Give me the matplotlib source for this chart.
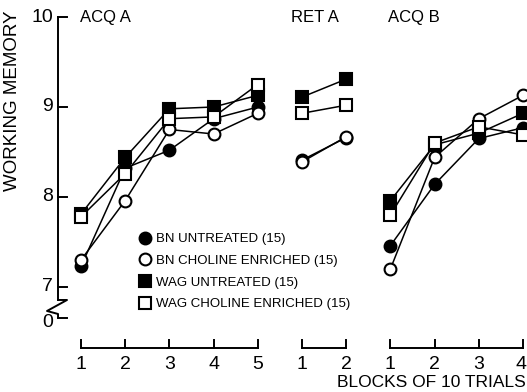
import numpy as np
import matplotlib.pyplot as plt
from matplotlib.lines import Line2D

# Working memory scores, blocks of 10 trials, three phases
fases = ["ACQ A", "RET A", "ACQ B"]
bloques = {"ACQ A": [1, 2, 3, 4, 5], "RET A": [1, 2], "ACQ B": [1, 2, 3, 4]}

bn_untreated = {"ACQ A": [7.23, 8.32, 8.52, 8.87, 9.00],
                "RET A": [8.41, 8.66],
                "ACQ B": [7.46, 8.14, 8.65, 8.77]}
bn_choline = {"ACQ A": [7.30, 7.96, 8.75, 8.70, 8.93],
              "RET A": [8.39, 8.67],
              "ACQ B": [7.20, 8.44, 8.87, 9.13]}
wag_untreated = {"ACQ A": [7.81, 8.44, 8.98, 9.00, 9.13],
                 "RET A": [9.11, 9.31],
                 "ACQ B": [7.96, 8.58, 8.71, 8.93]}
wag_choline = {"ACQ A": [7.78, 8.26, 8.87, 8.89, 9.25],
               "RET A": [8.93, 9.02],
               "ACQ B": [7.80, 8.60, 8.78, 8.69]}

etiquetas = ["BN UNTREATED (15)", "BN CHOLINE ENRICHED (15)",
             "WAG UNTREATED (15)", "WAG CHOLINE ENRICHED (15)"]
yticks = [7, 8, 9, 10]

plt.rcParams["font.family"] = ["Liberation Sans", "DejaVu Sans"]

fig = plt.figure(figsize=(5.27, 3.92), dpi=100)
ax = fig.add_axes([0, 0, 1, 1])
ax.set_xlim(-0.833, 11.09)
ax.set_ylim(5.833, 10.189)
ax.axis("off")

# posicion continua de cada fase en el eje x
inicio = {"ACQ A": 1, "RET A": 6, "ACQ B": 8}
cero = 6.66  # donde se dibuja el 0 del eje cortado

estilos = [
    (bn_untreated, dict(marker="o", mfc="black")),
    (wag_untreated, dict(marker="s", mfc="black")),
    (bn_choline, dict(marker="o", mfc="white")),
    (wag_choline, dict(marker="s", mfc="white")),
]
for serie, st in estilos:
    for f in fases:
        x = np.array(bloques[f]) + inicio[f] - 1
        ax.plot(x, serie[f], color="black", lw=1.1, ms=8.5, mec="black",
                mew=1.5, **st)

# eje y con corte
k = lambda px: 1 + (px - 81) / 44.2
v = lambda py: 10 - (py - 17) / 90
ax.plot([k(58), k(58)], [10, v(300)], color="black", lw=1.4)
ax.plot([k(58), k(67), k(47), k(58), k(58)],
        [v(300), v(300), v(311), v(314), cero], color="black", lw=1.4)
for t in yticks + [cero]:
    ax.plot([k(58), k(67)], [t, t], color="black", lw=1.4)
    lab = "0" if t == cero else str(t)
    yy = cero - 0.06 if t == cero else t
    ax.text(k(53), yy, lab, ha="right", va="center", fontsize=14)

ax.text(k(12), v(101), "WORKING MEMORY", rotation=90, ha="center",
        va="center", fontsize=13.5)

# eje x en tramos por fase
yb = v(348)
for f in fases:
    x = np.array(bloques[f]) + inicio[f] - 1
    ax.plot([x[0], x[-1]], [yb, yb], color="black", lw=1.4)
    for xi, b in zip(x, bloques[f]):
        ax.plot([xi, xi], [yb, yb + 0.09], color="black", lw=1.4)
        xt = min(xi, k(520.5))
        ax.text(xt, v(365), str(b), ha="center", va="center", fontsize=14)

ax.text(k(526), v(383), "BLOCKS OF 10 TRIALS", ha="right", va="center",
        fontsize=12.5)

# titulos de cada fase
ax.text(k(80), v(17), "ACQ A", ha="left", va="center", fontsize=12)
ax.text(k(291), v(17), "RET A", ha="left", va="center", fontsize=12)
ax.text(k(388), v(17), "ACQ B", ha="left", va="center", fontsize=12)

manejadores = [
    Line2D([], [], ls="none", marker="o", mfc="black", mec="black", ms=8.5, mew=1.5),
    Line2D([], [], ls="none", marker="o", mfc="white", mec="black", ms=8.5, mew=1.5),
    Line2D([], [], ls="none", marker="s", mfc="black", mec="black", ms=8.5, mew=1.5),
    Line2D([], [], ls="none", marker="s", mfc="white", mec="black", ms=8.5, mew=1.5),
]
ax.legend(manejadores, etiquetas, loc="upper left",
          bbox_to_anchor=(k(140), v(233)), bbox_transform=ax.transData,
          frameon=False, fontsize=9.5, handlelength=0.8, handletextpad=0.4,
          labelspacing=0.72, borderpad=0, borderaxespad=0)

plt.savefig("out.png", dpi=100)
